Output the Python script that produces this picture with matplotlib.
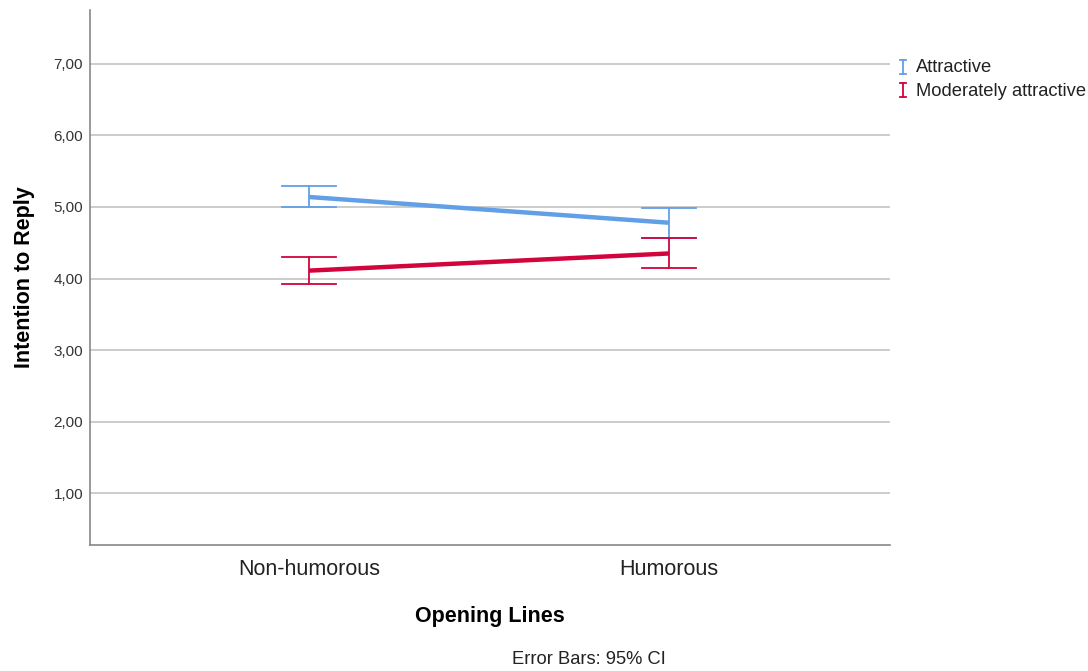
import matplotlib
matplotlib.use("Agg")
import matplotlib.pyplot as plt
import numpy as np

plt.rcParams['font.family'] = ['Liberation Sans', 'DejaVu Sans']

categories = ["Non-humorous", "Humorous"]
groups = ["Attractive", "Moderately attractive"]
means = {
    "Attractive": [5.14, 4.78],
    "Moderately attractive": [4.11, 4.35],
}
ci_low = {
    "Attractive": [5.00, 4.57],
    "Moderately attractive": [3.92, 4.15],
}
ci_high = {
    "Attractive": [5.29, 4.99],
    "Moderately attractive": [4.30, 4.57],
}
colors = {"Attractive": "#619FE6", "Moderately attractive": "#D2043C"}
yticks = [1, 2, 3, 4, 5, 6, 7]
ytick_labels = ["1,00", "2,00", "3,00", "4,00", "5,00", "6,00", "7,00"]

fig = plt.figure(figsize=(10.88, 6.71), dpi=100)
ax = fig.add_axes([90 / 1088, 1 - 545 / 671, 800 / 1088, 535 / 671])

x = np.arange(len(categories))
ax.set_xlim(-0.608, 1.614)
ax.set_ylim(0.273, 7.755)

for yv in yticks:
    ax.axhline(yv, color="#C8C8C8", lw=1.3, zorder=0)

cap_half = 27 / 360  # data units along x
for g in groups:
    c = colors[g]
    ax.plot(x, means[g], color=c, lw=3.2, solid_capstyle="butt", zorder=3)
    for xi, lo, hi in zip(x, ci_low[g], ci_high[g]):
        ax.plot([xi, xi], [lo, hi], color=c, lw=1.3, zorder=2)
        ax.plot([xi - cap_half, xi + cap_half], [lo, lo], color=c, lw=1.3, zorder=2)
        ax.plot([xi - cap_half, xi + cap_half], [hi, hi], color=c, lw=1.3, zorder=2)

ax.set_yticks(yticks)
ax.set_yticklabels(ytick_labels, fontsize=11, color="#333333")
ax.set_xticks(x)
ax.set_xticklabels(categories, fontsize=15.5, color="#222222")
ax.tick_params(axis="y", length=0, pad=5)
ax.tick_params(axis="x", length=0, pad=10)

for s in ["top", "right"]:
    ax.spines[s].set_visible(False)
for s in ["left", "bottom"]:
    ax.spines[s].set_color("#888888")
    ax.spines[s].set_linewidth(1.2)

ax.set_ylabel("Intention to Reply", fontsize=15.5, fontweight="bold", labelpad=13)
ax.set_xlabel("Opening Lines", fontsize=15.5, fontweight="bold", labelpad=19)

# legend with I-beam glyphs
W, H = 1088, 671
fx = lambda px: px / W
fy = lambda py: 1 - py / H
for i, g in enumerate(groups):
    yc = 67 + i * 23
    c = colors[g]
    xm = 903
    fig.add_artist(plt.Line2D([fx(xm), fx(xm)], [fy(yc - 7), fy(yc + 7)], color=c, lw=1.3))
    fig.add_artist(plt.Line2D([fx(xm - 3), fx(xm + 3)], [fy(yc - 7), fy(yc - 7)], color=c, lw=1.3))
    fig.add_artist(plt.Line2D([fx(xm - 3), fx(xm + 3)], [fy(yc + 7), fy(yc + 7)], color=c, lw=1.3))
    fig.text(fx(916), fy(yc + 1), g, fontsize=13.2, va="center", ha="left", color="#222222")

fig.text(589 / W, 1 - 659 / H, "Error Bars: 95% CI", fontsize=13.2, ha="center", va="center", color="#222222")

fig.savefig("out.png", dpi=100)
